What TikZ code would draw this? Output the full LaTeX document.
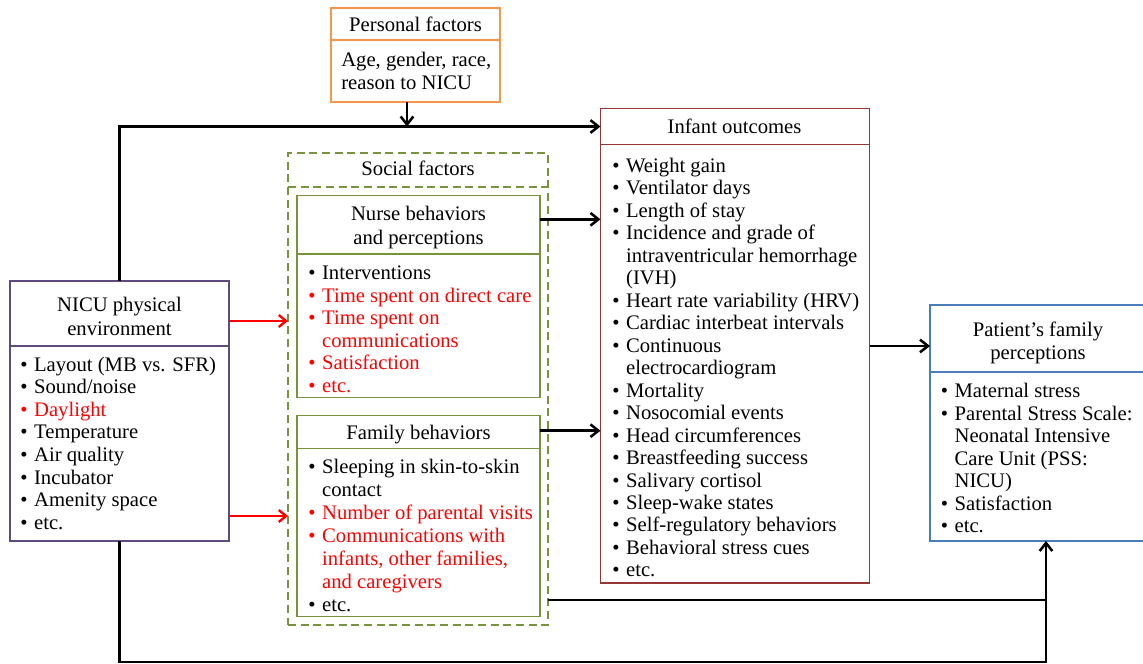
\documentclass[tikz,border=0pt]{standalone}
\usepackage{fontspec}
\setmainfont{Liberation Serif}
\newfontfamily\tnr{Liberation Serif}
\usetikzlibrary{arrows.meta}
\definecolor{cpurple}{RGB}{96,74,123}
\definecolor{corange}{RGB}{247,150,70}
\definecolor{cdred}{RGB}{149,55,53}
\definecolor{colive}{RGB}{119,147,60}
\definecolor{cblue}{RGB}{74,126,187}
\definecolor{cred}{RGB}{255,0,0}
\newcommand\bu[1]{\textbullet&#1\\}
\newcommand\bc[1]{&#1\\}
\newcommand\rbu[1]{\textcolor{cred}{\textbullet}&\textcolor{cred}{#1}\\}
\newcommand\rbc[1]{&\textcolor{cred}{#1}\\}
\newenvironment{blist}{\begin{tabular}[t]{@{}p{10.4pt}@{}l@{}}}{\end{tabular}}
\newenvironment{hlines}{\begin{tabular}[t]{@{}c@{}}}{\end{tabular}}
\begin{document}
\begin{tikzpicture}[x=0.75pt,y=-0.75pt,
  frame/.style={draw, rectangle, line width=1.25pt, inner sep=0pt, outer sep=0pt, anchor=north west},
  dashline/.style={line width=1.25pt, dash pattern=on 6pt off 3.5pt},
  lst/.style={anchor=base west, inner sep=0pt, font=\tnr\fontsize{15.5pt}{#1}\selectfont},
  hdr/.style={anchor=base, inner sep=0pt, font=\tnr\fontsize{15.5pt}{#1}\selectfont},
  conn/.style={line width=1.9pt, -{Straight Barb[length=6pt,width=9.5pt]}},
  rconn/.style={line width=1.8pt, cred, -{Straight Barb[length=5.5pt,width=9pt]}},
  plain/.style={line width=1.9pt}]
\useasboundingbox (0,0) rectangle (1143,664);

% coordinates for connector levels
\coordinate (r1) at (0,321);
\coordinate (r2) at (0,516);
\coordinate (yn) at (0,219.3);
\coordinate (yf) at (0,430.7);
\coordinate (yi) at (0,346);
\coordinate (y600) at (0,600);
\coordinate (ybot) at (0,662);
\coordinate (xin) at (1046,0);
\coordinate (xp) at (407,0);

% NICU physical environment
\node[frame, draw=cpurple, minimum width=219*0.75pt, minimum height=260*0.75pt] (nicu) at (10,281) {};
\node[frame, draw=cpurple, minimum width=219*0.75pt, minimum height=65*0.75pt] (nicuh) at (10,281) {};
\node[hdr=18pt] (nicut) at (119.5,311) {\begin{hlines}NICU physical\\environment\end{hlines}};
\node[lst=16.95pt] (nicul) at (20,371) {\begin{blist}
\bu{Layout (MB vs. SFR)}
\bu{Sound/noise}
\rbu{Daylight}
\bu{Temperature}
\bu{Air quality}
\bu{Incubator}
\bu{Amenity space}
\bu{etc.}
\end{blist}};

% Personal factors
\node[frame, draw=corange, minimum width=169*0.75pt, minimum height=94*0.75pt] (pers) at (331,8) {};
\node[frame, draw=corange, minimum width=169*0.75pt, minimum height=32*0.75pt] (persh) at (331,8) {};
\node[hdr=18pt] (perst) at (415.5,31.7) {Personal factors};
\node[lst=17.6pt] (persl) at (341,66.5) {\begin{tabular}[t]{@{}l@{}}Age, gender, race,\\reason to NICU\end{tabular}};

% Social factors
\node[frame, draw=colive, dashline, minimum width=260*0.75pt, minimum height=472*0.75pt] (soc) at (288,153) {};
\node[frame, draw=none, minimum width=260*0.75pt, minimum height=34*0.75pt] (soch) at (288,153) {};
\draw[colive, dashline] (soch.south west) -- (soch.south east);
\node[hdr=18pt] (soct) at (418,175.5) {Social factors};

% Nurse behaviors
\node[frame, draw=colive, minimum width=243*0.75pt, minimum height=202*0.75pt] (nur) at (297,195.5) {};
\node[frame, draw=colive, minimum width=243*0.75pt, minimum height=58.5*0.75pt] (nurh) at (297,195.5) {};
\node[hdr=18pt] (nurt) at (418.5,220) {\begin{hlines}Nurse behaviors\\and perceptions\end{hlines}};
\node[lst=16.95pt] (nurl) at (308,279.5) {\begin{blist}
\bu{Interventions}
\rbu{Time spent on direct care}
\rbu{Time spent on}
\rbc{communications}
\rbu{Satisfaction}
\rbu{etc.}
\end{blist}};

% Family behaviors
\node[frame, draw=colive, minimum width=243*0.75pt, minimum height=201*0.75pt] (fam) at (297,415.5) {};
\node[frame, draw=colive, minimum width=243*0.75pt, minimum height=33*0.75pt] (famh) at (297,415.5) {};
\node[hdr=18pt] (famt) at (418.5,439) {Family behaviors};
\node[lst=17.25pt] (faml) at (308,473.5) {\begin{blist}
\bu{Sleeping in skin-to-skin}
\bc{contact}
\rbu{Number of parental visits}
\rbu{Communications with}
\rbc{infants, other families,}
\rbc{and caregivers}
\bu{etc.}
\end{blist}};

% Infant outcomes
\node[frame, draw=cdred, minimum width=269*0.75pt, minimum height=474.5*0.75pt] (inf) at (600.5,108.5) {};
\node[frame, draw=cdred, minimum width=269*0.75pt, minimum height=36*0.75pt] (infh) at (600.5,108.5) {};
\node[hdr=18pt] (inft) at (734.5,133.5) {Infant outcomes};
\node[lst=16.85pt] (infl) at (612,172.5) {\begin{blist}
\bu{Weight gain}
\bu{Ventilator days}
\bu{Length of stay}
\bu{Incidence and grade of}
\bc{intraventricular hemorrhage}
\bc{(IVH)}
\bu{Heart rate variability (HRV)}
\bu{Cardiac interbeat intervals}
\bu{Continuous}
\bc{electrocardiogram}
\bu{Mortality}
\bu{Nosocomial events}
\bu{Head circumferences}
\bu{Breastfeeding success}
\bu{Salivary cortisol}
\bu{Sleep-wake states}
\bu{Self-regulatory behaviors}
\bu{Behavioral stress cues}
\bu{etc.}
\end{blist}};

% Patient's family perceptions
\node[frame, draw=cblue, minimum width=216*0.75pt, minimum height=236*0.75pt] (pat) at (930,305) {};
\node[frame, draw=cblue, minimum width=216*0.75pt, minimum height=67*0.75pt] (path) at (930,305) {};
\node[hdr=17.6pt] (patt) at (1038,336.5) {\begin{hlines}Patient’s family\\perceptions\end{hlines}};
\node[lst=16.875pt] (patl) at (940.5,397.5) {\begin{blist}
\bu{Maternal stress}
\bu{Parental Stress Scale:}
\bc{Neonatal Intensive}
\bc{Care Unit (PSS:}
\bc{NICU)}
\bu{Satisfaction}
\bu{etc.}
\end{blist}};

% connectors
\draw[conn] (nicu.north) |- (infh.west);
\draw[conn] (pers.south -| xp) -- (xp |- infh.west);
\draw[rconn] (nicu.east |- r1) -- (soc.west |- r1);
\draw[rconn] (nicu.east |- r2) -- (soc.west |- r2);
\draw[conn] (nur.east |- yn) -- (inf.west |- yn);
\draw[conn] (fam.east |- yf) -- (inf.west |- yf);
\draw[conn] (inf.east |- yi) -- (pat.west |- yi);
\draw[conn] (soc.east |- y600) -| (pat.south -| xin);
\draw[plain] (nicu.south) |- (xin |- ybot) -- (xin |- y600);
\end{tikzpicture}
\end{document}
